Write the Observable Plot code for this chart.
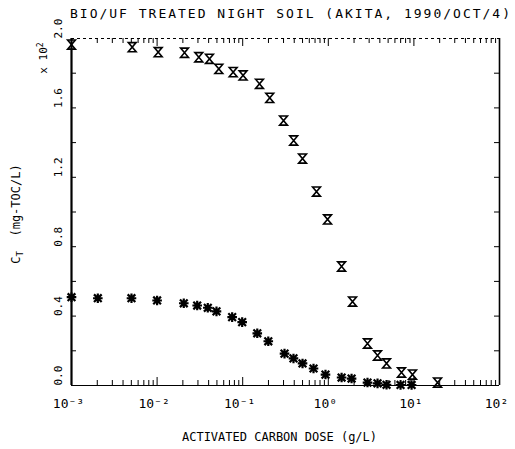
<!DOCTYPE html>
<html>
<head>
<meta charset="utf-8">
<script src="https://cdn.jsdelivr.net/npm/d3@7"></script>
<script src="https://cdn.jsdelivr.net/npm/@observablehq/plot@0.6"></script>
<style>
  html, body { margin: 0; padding: 0; background: #fff; }
  svg { font-family: "DejaVu Sans Mono", monospace; }
</style>
</head>
<body>
<div id="chart"></div>
<script>
// ---- data (y in units of x10^2 mg-TOC/L) ----
const titleText = "BIO/UF TREATED NIGHT SOIL (AKITA, 1990/OCT/4)";
const xTitle = "ACTIVATED CARBON DOSE (g/L)";

// series 1: hourglass markers
const doseX = [0.001, 0.00512, 0.0103, 0.0209, 0.0307, 0.0409, 0.0526, 0.0774, 0.101, 0.157, 0.207,
               0.300, 0.394, 0.500, 0.728, 0.98, 1.43, 1.92, 2.87, 3.76, 4.79, 7.16, 9.63, 18.9];
const ctX   = [1.965, 1.950, 1.921, 1.918, 1.892, 1.883, 1.825, 1.806, 1.787, 1.739, 1.658,
               1.527, 1.412, 1.308, 1.118, 0.957, 0.686, 0.484, 0.242, 0.173, 0.127, 0.075, 0.063, 0.017];

// series 2: asterisk markers
const doseA = [0.001, 0.00203, 0.00502, 0.0100, 0.0205, 0.0294, 0.0391, 0.0494, 0.0753, 0.0986, 0.148, 0.199,
               0.308, 0.392, 0.500, 0.672, 0.927, 1.43, 1.87, 2.87, 3.76, 4.79, 6.98, 9.4];
const ctA   = [0.509, 0.503, 0.503, 0.490, 0.474, 0.461, 0.448, 0.427, 0.394, 0.365, 0.301, 0.255,
               0.184, 0.156, 0.127, 0.098, 0.063, 0.046, 0.040, 0.017, 0.012, 0.004, 0.003, 0.003];

const xMajor = [1e-3, 1e-2, 1e-1, 1e0, 1e1, 1e2];
const xExp   = ["-3", "-2", "-1", "0", "1", "2"];
const yLabels = [0.0, 0.4, 0.8, 1.2, 1.6, 2.0];
const yTicks  = [0.2, 0.4, 0.6, 0.8, 1.0, 1.2, 1.4, 1.6, 1.8];

// ---- build ----
const W = 515, H = 449, mL = 71, mR = 16, mT = 38, mB = 64;
const fw = W - mL - mR, fh = H - mT - mB;
const xMinor = d3.scaleLog().domain([1e-3, 1e2]).ticks().filter(v => !xMajor.some(m => Math.abs(m - v) / m < 1e-9));

const sup = {"-": "\u207B", "0": "\u2070", "1": "\u00B9", "2": "\u00B2", "3": "\u00B3"};
const toSup = s => s.split("").map(c => sup[c]).join("");

const hourglass = {
  draw(ctx, size) {
    const h = Math.sqrt(size / Math.PI);
    const w = h * 0.85;
    ctx.moveTo(-w, -h); ctx.lineTo(w, -h); ctx.lineTo(-w, h); ctx.lineTo(w, h); ctx.closePath();
  }
};
const star = {
  draw(ctx, size) {
    const h = Math.sqrt(size / Math.PI);
    const d = h * 0.8;
    ctx.moveTo(0, -h); ctx.lineTo(0, h);
    ctx.moveTo(-h, 0); ctx.lineTo(h, 0);
    ctx.moveTo(-d, -d); ctx.lineTo(d, d);
    ctx.moveTo(-d, d); ctx.lineTo(d, -d);
  }
};

const s1 = doseX.map((x, i) => ({x, y: ctX[i]}));
const s2 = doseA.map((x, i) => ({x, y: ctA[i]}));

const chart = Plot.plot({
  width: W, height: H,
  marginLeft: mL, marginRight: mR, marginTop: mT, marginBottom: mB,
  x: {type: "log", domain: [1e-3, 1e2], axis: null},
  y: {domain: [0, 2.0], axis: null},
  style: {fontFamily: "DejaVu Sans Mono, monospace", color: "#000", background: "#fff"},
  marks: [
    // frame
    Plot.ruleY([2.0], {stroke: "#000", strokeWidth: 1, strokeDasharray: "3,3"}),
    Plot.ruleY([0], {stroke: "#000", strokeWidth: 1}),
    Plot.ruleX([1e2], {stroke: "#000", strokeWidth: 1.6}),
    Plot.ruleX([1e-3], {stroke: "#000", strokeWidth: 2.2}),
    // x ticks (inward)
    Plot.ruleX(xMinor, {x: d => d, insetTop: fh - 5, stroke: "#000", strokeWidth: 1}),
    Plot.ruleX(xMajor, {x: d => d, insetTop: fh - 8, stroke: "#000", strokeWidth: 1}),
    Plot.ruleX(xMinor, {x: d => d, insetBottom: fh - 5, stroke: "#000", strokeWidth: 1}),
    Plot.ruleX(xMajor, {x: d => d, insetBottom: fh - 8, stroke: "#000", strokeWidth: 1}),
    // y ticks (inward)
    Plot.ruleY(yTicks, {y: d => d, insetRight: fw - 5, stroke: "#000", strokeWidth: 1}),
    Plot.ruleY(yTicks, {y: d => d, insetLeft: fw - 5, stroke: "#000", strokeWidth: 1}),
    // x tick labels
    Plot.text(xMajor, {x: d => d, frameAnchor: "bottom", dy: 22, dx: -3, text: (d, i) => "10" + toSup(xExp[i]),
      fontSize: 13, fill: "#000"}),
    // y tick labels
    Plot.text(yLabels, {y: d => d, frameAnchor: "left", dx: -13, rotate: -90, text: d => d.toFixed(1),
      fontSize: 11, fill: "#000"}),
    // x title
    Plot.text([xTitle], {frameAnchor: "bottom", dy: 55, dx: -6, text: d => d, fontSize: 12, fill: "#000"}),
    // data
    Plot.dot(s1, {x: "x", y: "y", symbol: hourglass, r: 4.6, stroke: "#000", strokeWidth: 1.6, fill: "none"}),
    Plot.dot(s2, {x: "x", y: "y", symbol: star, r: 4.8, stroke: "#000", strokeWidth: 2.2, fill: "none"})
  ]
});

document.getElementById("chart").appendChild(chart);

const svg = d3.select(chart);
// title
svg.append("text")
  .attr("x", 70).attr("y", 18)
  .attr("text-anchor", "start")
  .attr("font-size", 13)
  .attr("textLength", 440)
  .attr("lengthAdjust", "spacing")
  .attr("fill", "#000")
  .text(titleText);
// y axis title with subscript
const yt = svg.append("text")
  .attr("transform", "translate(20,214) rotate(-90)")
  .attr("text-anchor", "middle")
  .attr("font-size", 12)
  .attr("fill", "#000");
yt.append("tspan").text("C");
yt.append("tspan").attr("font-size", 9).attr("dy", 3).text("T");
yt.append("tspan").attr("dy", -3).text("  (mg-TOC/L)");
// multiplier
const mt = svg.append("text")
  .attr("transform", "translate(47,58) rotate(-90)")
  .attr("text-anchor", "middle")
  .attr("font-size", 11)
  .attr("fill", "#000");
mt.append("tspan").text("x 10");
mt.append("tspan").attr("font-size", 8).attr("dy", -4).text("2");
</script>
</body>
</html>
